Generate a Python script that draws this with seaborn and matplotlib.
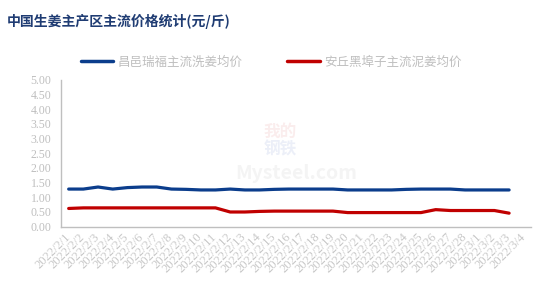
import matplotlib
matplotlib.use("Agg")
import matplotlib.pyplot as plt
import seaborn as sns
import pandas as pd
import numpy as np
from matplotlib.lines import Line2D

dates = ["2022/2/%d" % d for d in range(1, 29)] + ["2022/3/%d" % d for d in range(1, 5)]
series_blue_name = "昌邑瑞福主流洗姜均价"
series_red_name = "安丘黑埠子主流泥姜均价"
blue_vals = [1.28, 1.28, 1.35, 1.28, 1.33, 1.35, 1.35, 1.28, 1.27, 1.25, 1.25, 1.28, 1.25, 1.25, 1.27, 1.28,
             1.28, 1.28, 1.28, 1.25, 1.25, 1.25, 1.25, 1.27, 1.28, 1.28, 1.28, 1.25, 1.25, 1.25, 1.25]
red_vals = [0.62, 0.64, 0.64, 0.64, 0.64, 0.64, 0.64, 0.64, 0.64, 0.64, 0.64, 0.50, 0.50, 0.52, 0.53, 0.53,
            0.53, 0.53, 0.53, 0.48, 0.48, 0.48, 0.48, 0.48, 0.48, 0.58, 0.55, 0.55, 0.55, 0.55, 0.46]
yticks = [0, 0.5, 1.0, 1.5, 2.0, 2.5, 3.0, 3.5, 4.0, 4.5, 5.0]
title = "中国生姜主产区主流价格统计(元/斤)"

sns.set_style("white")
plt.rcParams['font.family'] = ['Noto Sans CJK SC', 'DejaVu Sans']

n = len(blue_vals)
df = pd.DataFrame({
    "pos": list(np.arange(n) + 0.5) * 2,
    "value": blue_vals + red_vals,
    "series": [series_blue_name] * n + [series_red_name] * n,
})

fig = plt.figure(figsize=(5.54, 2.91), dpi=100)
ax = fig.add_axes([0.1107, 0.221, 0.848, 0.505])
palette = {series_blue_name: "#0B3D8C", series_red_name: "#C00000"}
sns.lineplot(data=df, x="pos", y="value", hue="series", palette=palette, linewidth=2.3, ax=ax, legend=False)

ax.set_xlim(0, len(dates))
ax.set_ylim(0, 5)
ax.set_yticks(yticks)
ax.set_yticklabels(["%.2f" % v for v in yticks], fontsize=8.5, color="#BFBFBF", family="Liberation Serif")
ax.set_xticks(np.arange(len(dates) + 1), minor=False)
ax.set_xticklabels([""] * (len(dates) + 1))
ax.set_xticks(np.arange(len(dates)) + 0.2, minor=True)
ax.set_xticklabels(dates, minor=True, rotation=45, ha="right", va="top", rotation_mode="anchor",
                   fontsize=9, color="#C8C8C8", family="Liberation Serif")
ax.tick_params(axis="x", which="minor", length=0, pad=3)
ax.tick_params(axis="x", which="major", length=4, width=1, color="#BFBFBF", direction="out")
ax.tick_params(axis="y", length=4, width=1, color="#BFBFBF", direction="out", pad=3)
ax.set_xlabel("")
ax.set_ylabel("")
for s in ["top", "right"]:
    ax.spines[s].set_visible(False)
for s in ["left", "bottom"]:
    ax.spines[s].set_color("#BFBFBF")
    ax.spines[s].set_linewidth(1)

# watermark (very faint)
fig.text(0.505, 0.548, "我的", fontsize=12, color="#F6D8D8", alpha=0.45, ha="center", va="center", fontweight="bold")
fig.text(0.505, 0.485, "钢铁", fontsize=12, color="#D6DDF0", alpha=0.45, ha="center", va="center", fontweight="bold")
fig.text(0.535, 0.405, "Mysteel.com", fontsize=14, color="#EDEDED", alpha=0.6, ha="center", va="center", fontweight="bold")

# legend
handles = [Line2D([], [], color=palette[series_blue_name], linewidth=2.5),
           Line2D([], [], color=palette[series_red_name], linewidth=2.5)]
fig.legend(handles, [series_blue_name, series_red_name], loc="center left", bbox_to_anchor=(0.125, 0.787),
           ncol=2, frameon=False, fontsize=9, handlelength=2.6, handletextpad=0.35, columnspacing=3.6,
           labelcolor="#BFBFBF")

fig.text(0.013, 0.925, title, fontsize=10, fontweight="bold", color="#1F3C73", ha="left", va="center")

fig.savefig("out.png", dpi=100)
